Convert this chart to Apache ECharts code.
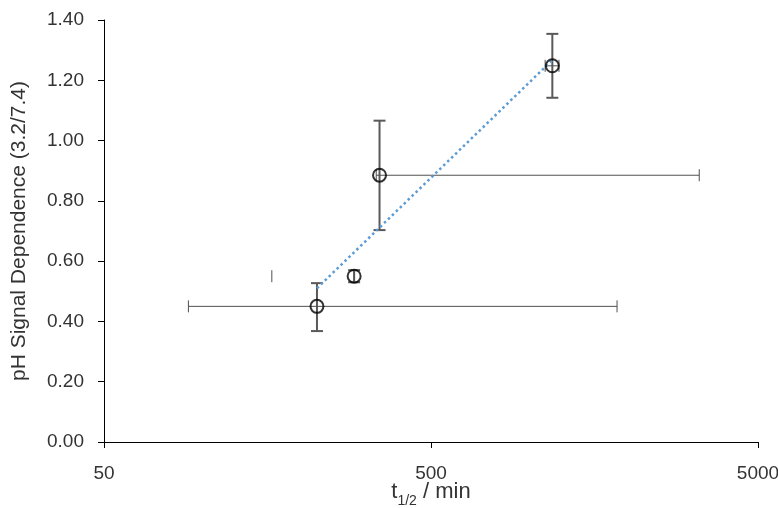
<!DOCTYPE html>
<html>
<head>
<meta charset="utf-8">
<script src="https://cdn.jsdelivr.net/npm/echarts@6/dist/echarts.min.js"></script>
<style>html,body{margin:0;padding:0;background:#fff}#c{width:778px;height:508px}</style>
</head>
<body>
<div id="c"></div>
<script>
// ---- data (t1/2 in min, pH signal dependence) ----
var tHalf   = [224, 291, 348, 1175];
var signal  = [0.45, 0.55, 0.885, 1.248];
var yLow    = [0.368, 0.53, 0.703, 1.142];
var yHigh   = [0.527, 0.57, 1.066, 1.354];
var xLow    = [90.6, 163, 340, 1117];
var xHigh   = [1853, 291, 3306, 1231];
var xBarLine = [true, false, true, true];
var trendX  = [224, 1175];
var trendY  = [0.51, 1.267];
var xTickLabels = ['50', '500', '5000'];
var yTickLabels = ['0.00','0.20','0.40','0.60','0.80','1.00','1.20','1.40'];

var X0 = 50;
function lx(v){ return Math.log10(v / X0); }

var font = 'Liberation Sans';
var chart = echarts.init(document.getElementById('c'));

var errData = tHalf.map(function(t, i){
  return [lx(t), signal[i], lx(xLow[i]), lx(xHigh[i]), yLow[i], yHigh[i], xBarLine[i] ? 1 : 0];
});

function renderErr(params, api){
  var p = api.coord([api.value(0), api.value(1)]);
  var pxl = api.coord([api.value(2), api.value(1)]);
  var pxh = api.coord([api.value(3), api.value(1)]);
  var pyl = api.coord([api.value(0), api.value(4)]);
  var pyh = api.coord([api.value(0), api.value(5)]);
  var hl = api.value(6);
  var vs = {stroke: '#595959', lineWidth: 2};
  var hs = {stroke: '#505050', lineWidth: 1};
  var cw = 6, ch = 6;
  var children = [
    {type:'line', shape:{x1:p[0], y1:pyl[1], x2:p[0], y2:pyh[1]}, style: vs},
    {type:'line', shape:{x1:p[0]-cw, y1:pyl[1], x2:p[0]+cw, y2:pyl[1]}, style: vs},
    {type:'line', shape:{x1:p[0]-cw, y1:pyh[1], x2:p[0]+cw, y2:pyh[1]}, style: vs},
    {type:'line', shape:{x1:pxl[0], y1:p[1]-ch, x2:pxl[0], y2:p[1]+ch}, style: hs},
    {type:'line', shape:{x1:pxh[0], y1:p[1]-ch, x2:pxh[0], y2:p[1]+ch}, style: hs}
  ];
  if (hl) children.push({type:'line', shape:{x1:pxl[0], y1:p[1], x2:pxh[0], y2:p[1]}, style: hs});
  return {type:'group', children: children};
}

chart.setOption({
  animation: false,
  backgroundColor: '#fff',
  grid: {left: 104, right: 20, top: 20, bottom: 66, containLabel: false, outerBoundsMode: 'none'},
  xAxis: {
    type: 'value', min: 0, max: 2, interval: 1,
    axisLine: {show: true, lineStyle: {color: '#000', width: 1}},
    axisTick: {show: true, length: 6, lineStyle: {color: '#000'}},
    splitLine: {show: false},
    axisLabel: {
      margin: 22, color: '#333', fontFamily: font, fontSize: 19,
      formatter: function(v){ return xTickLabels[Math.round(v)]; }
    },
    name: '{t|t}{s|1/2}{t| / min}',
    nameLocation: 'middle', nameGap: 49, nameMoveOverlap: false,
    nameTextStyle: {
      verticalAlign: 'middle', fontSize: 22, fontFamily: font,
      rich: {
        t: {fontFamily: font, fontSize: 22, color: '#333', lineHeight: 24, verticalAlign: 'bottom'},
        s: {fontFamily: font, fontSize: 14, color: '#333', lineHeight: 16, verticalAlign: 'bottom', padding: [0,0,-5,0]}
      }
    }
  },
  yAxis: {
    type: 'value', min: 0, max: 1.4, interval: 0.2,
    axisLine: {show: true, lineStyle: {color: '#000', width: 1}},
    axisTick: {show: true, length: 6, lineStyle: {color: '#000'}},
    splitLine: {show: false},
    axisLabel: {
      margin: 20, color: '#333', fontFamily: font, fontSize: 19,
      formatter: function(v){ return yTickLabels[Math.round(v / 0.2)]; }
    },
    name: 'pH Signal Dependence (3.2/7.4)',
    nameLocation: 'middle', nameGap: 74, nameMoveOverlap: false,
    nameTextStyle: {fontFamily: font, fontSize: 21, color: '#333'}
  },
  series: [
    {
      type: 'custom', renderItem: renderErr, data: errData, z: 2,
      encode: {x: 0, y: 1}
    },
    {
      type: 'line', data: trendX.map(function(t, i){ return [lx(t), trendY[i]]; }),
      symbol: 'none', z: 3,
      lineStyle: {color: '#5B9BD5', width: 2.5, type: [2.5, 3]}
    },
    {
      type: 'scatter', data: tHalf.map(function(t, i){ return [lx(t), signal[i]]; }),
      symbol: 'circle', symbolSize: 13, z: 4,
      itemStyle: {color: 'rgba(0,0,0,0)', borderColor: '#000', borderWidth: 2}
    }
  ]
});
</script>
</body>
</html>
